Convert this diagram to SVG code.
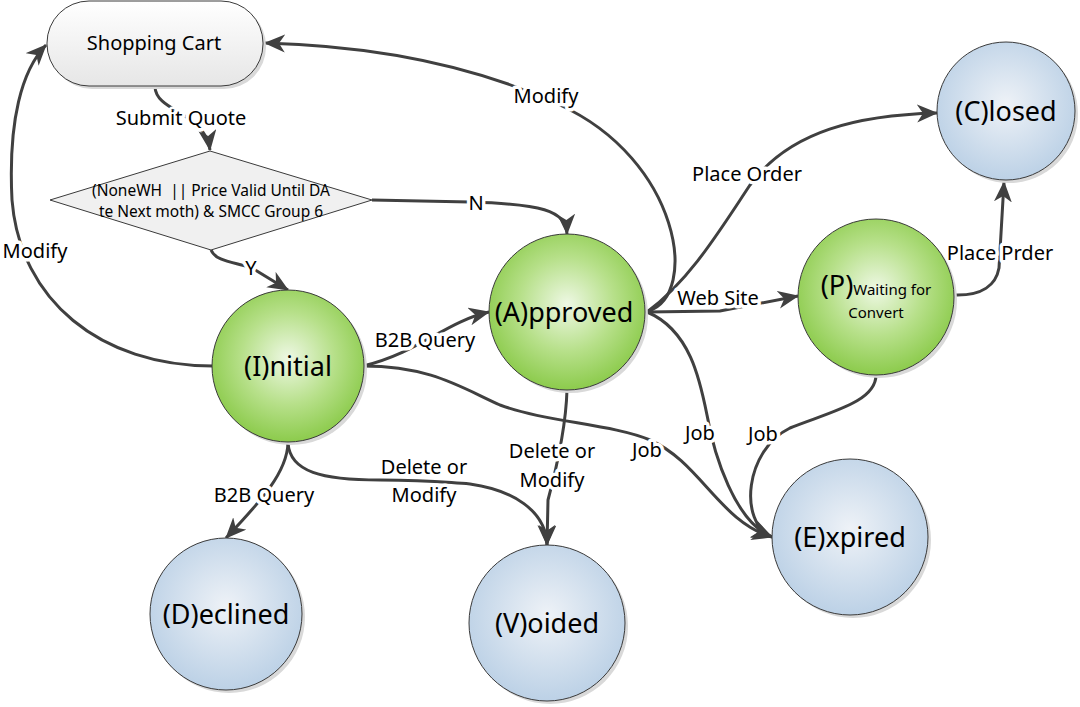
<svg xmlns="http://www.w3.org/2000/svg" width="1080" height="707" viewBox="0 0 1080 707">
<defs>
<radialGradient id="gG" cx="0.5" cy="0.45" r="0.55">
<stop offset="0" stop-color="#eef8e4"/>
<stop offset="0.55" stop-color="#b7e08a"/>
<stop offset="1" stop-color="#8ccb4c"/>
</radialGradient>
<radialGradient id="gB" cx="0.5" cy="0.45" r="0.55">
<stop offset="0" stop-color="#eef2f7"/>
<stop offset="1" stop-color="#bcd1e6"/>
</radialGradient>
<linearGradient id="gW" x1="0" y1="0" x2="0" y2="1">
<stop offset="0" stop-color="#ffffff"/>
<stop offset="1" stop-color="#e6e6e6"/>
</linearGradient>
<marker id="arr" markerUnits="userSpaceOnUse" markerWidth="24" markerHeight="20" refX="20" refY="9" orient="auto">
<path d="M0,0 L21,9 L0,18 L6,9 z" fill="#404040"/>
</marker>
</defs>
<style>
.c{fill:none;stroke:#404040;stroke-width:3}
.lbl{font-family:"Noto Sans","Open Sans",sans-serif;font-size:20px;fill:#000;text-anchor:middle;stroke:#fff;stroke-width:7;paint-order:stroke;stroke-linejoin:round}
.nt{font-family:"Noto Sans","Open Sans",sans-serif;fill:#000;text-anchor:middle}
.sh{fill:#d9d9d9}
.ng{fill:url(#gG);stroke:#3a3a3a;stroke-width:1}
.nb{fill:url(#gB);stroke:#3a3a3a;stroke-width:1}
</style>
<rect width="1080" height="707" fill="#fff"/>

<g id="connectors">
<path class="c" marker-end="url(#arr)" d="M648 311 C700 295 680 160 560 105 C480 68 380 46 265 43"/>
<path class="c" marker-end="url(#arr)" d="M213 366 C100 366 20 300 12 200 C8 120 22 70 46 45"/>
<path class="c" marker-end="url(#arr)" d="M155 87 C156 112 205 112 210 150"/>
<path class="c" marker-end="url(#arr)" d="M372 200 L470 202 C540 204 566 210 567 234"/>
<path class="c" marker-end="url(#arr)" d="M211 250 C216 262 235 262 252 268 L288 290"/>
<path class="c" marker-end="url(#arr)" d="M363 366 C420 352 445 322 489 312"/>
<path class="c" marker-end="url(#arr)" d="M363 366 C430 366 460 387 500 405 C545 422 612 424 650 440 C700 462 720 522 772 537"/>
<path class="c" marker-end="url(#arr)" d="M647 312 C690 330 700 380 707 415 C714 455 735 522 772 537"/>
<path class="c" marker-end="url(#arr)" d="M647 312 C690 280 720 230 750 185 C790 130 860 115 937 113"/>
<path class="c" marker-end="url(#arr)" d="M647 312 L720 311 L798 296"/>
<path class="c" marker-end="url(#arr)" d="M954 295 C982 296 996 285 999 268 L1004 182"/>
<path class="c" marker-end="url(#arr)" d="M876 375 C876 402 830 412 790 428 C745 450 738 522 772 537"/>
<path class="c" marker-end="url(#arr)" d="M567 390 C566 425 556 470 548 500 L547 545"/>
<path class="c" marker-end="url(#arr)" d="M288 443 C290 472 322 480 380 480 C430 480 440 482 470 484 C512 490 546 510 547 545"/>
<path class="c" marker-end="url(#arr)" d="M288 443 C287 472 262 500 226 538"/>

<text class="lbl" x="546" y="103">Modify</text>
<text class="lbl" x="35" y="258">Modify</text>
<text class="lbl" x="181" y="125">Submit Quote</text>
<text class="lbl" x="476" y="210">N</text>
<text class="lbl" x="251" y="275">Y</text>
<text class="lbl" x="425" y="347">B2B Query</text>
<text class="lbl" x="647" y="457">Job</text>
<text class="lbl" x="700" y="440">Job</text>
<text class="lbl" x="763" y="441">Job</text>
<text class="lbl" x="747" y="181">Place Order</text>
<text class="lbl" x="718" y="305">Web Site</text>
<text class="lbl" x="1000" y="260">Place Prder</text>
<text class="lbl" x="552" y="458">Delete or</text>
<text class="lbl" x="552" y="487">Modify</text>
<text class="lbl" x="424" y="474">Delete or</text>
<text class="lbl" x="424" y="502">Modify</text>
<text class="lbl" x="264" y="502">B2B Query</text>
</g>

<g id="shopping-cart">
<rect x="50" y="4" width="216" height="85" rx="42" class="sh"/>
<rect x="47" y="1" width="216" height="85" rx="42" fill="url(#gW)" stroke="#3a3a3a" stroke-width="1"/>
<text class="nt" x="154" y="50" font-size="20">Shopping Cart</text>
</g>

<g id="decision">
<polygon points="50,200 210,151 372,200 211,250" fill="#f0f0f0" stroke="#3a3a3a" stroke-width="1"/>
<text class="nt" x="211" y="196" font-size="15.5" xml:space="preserve">(NoneWH  || Price Valid Until DA</text>
<text class="nt" x="211" y="217" font-size="15.5">te Next moth) &amp; SMCC Group 6</text>
</g>

<g id="initial">
<circle cx="291" cy="369" r="76" class="sh"/>
<circle cx="288" cy="366" r="76" class="ng"/>
<text class="nt" x="288" y="376" font-size="27">(I)nitial</text>
</g>

<g id="approved">
<circle cx="570" cy="315" r="78" class="sh"/>
<circle cx="567" cy="312" r="78" class="ng"/>
<text class="nt" x="564" y="322" font-size="27">(A)pproved</text>
</g>

<g id="waiting">
<circle cx="879" cy="300" r="78" class="sh"/>
<circle cx="876" cy="297" r="78" class="ng"/>
<text class="nt" x="876" y="295"><tspan font-size="27">(P)</tspan><tspan font-size="15">Waiting for</tspan></text>
<text class="nt" x="876" y="318" font-size="15">Convert</text>
</g>

<g id="closed">
<circle cx="1009" cy="114" r="69" class="sh"/>
<circle cx="1006" cy="111" r="69" class="nb"/>
<text class="nt" x="1006" y="121" font-size="27">(C)losed</text>
</g>

<g id="expired">
<circle cx="853" cy="540" r="78" class="sh"/>
<circle cx="850" cy="537" r="78" class="nb"/>
<text class="nt" x="850" y="547" font-size="27">(E)xpired</text>
</g>

<g id="voided">
<circle cx="550" cy="626" r="78" class="sh"/>
<circle cx="547" cy="623" r="78" class="nb"/>
<text class="nt" x="547" y="633" font-size="27">(V)oided</text>
</g>

<g id="declined">
<circle cx="229" cy="617" r="76" class="sh"/>
<circle cx="226" cy="614" r="76" class="nb"/>
<text class="nt" x="226" y="624" font-size="27">(D)eclined</text>
</g>
</svg>
